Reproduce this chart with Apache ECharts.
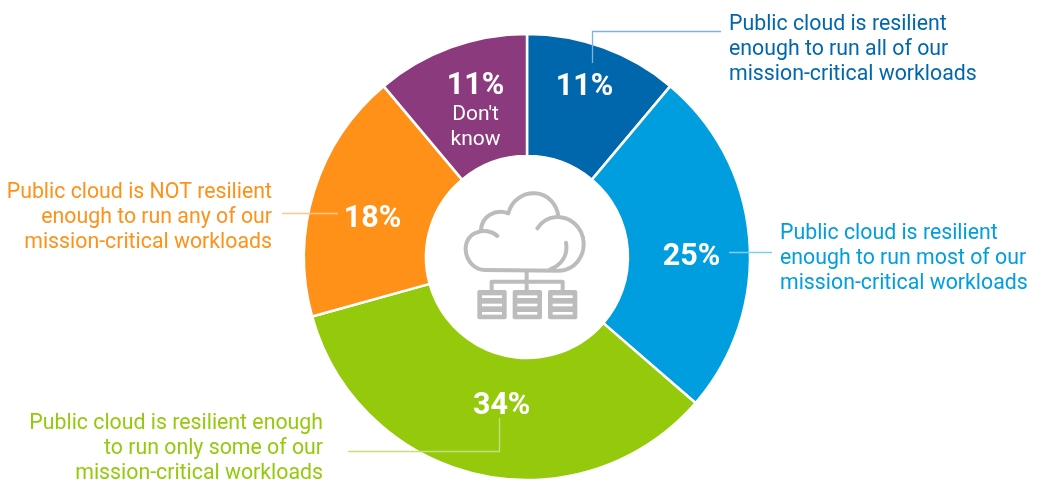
<!DOCTYPE html>
<html><head><meta charset="utf-8">
<style>html,body{margin:0;padding:0;background:#fff}#c{width:1042px;height:480px}</style>
<script src="https://cdn.jsdelivr.net/npm/echarts@6/dist/echarts.min.js"></script></head>
<body><div id="c"></div>
<script>
const values = [11, 25, 34, 18, 11];
const percentLabels = ['11%', '25%', '34%', '18%', '11%'];
const subLabels = ['', '', '', '', "Don't\nknow"];
const colors = ['#0067AC', '#009DDF', '#94CA0B', '#FF9119', '#8C3A7E'];
const lineColors = ['#80B3D5', '#80CEEF', '#C4E07E', '#FFC88C'];
const calloutLines = [
  ['Public cloud is resilient', 'enough to run all of our', 'mission-critical workloads'],
  ['Public cloud is resilient', 'enough to run most of our', 'mission-critical workloads'],
  ['Public cloud is resilient enough', 'to run only some of our', 'mission-critical workloads'],
  ['Public cloud is NOT resilient', 'enough to run any of our', 'mission-critical workloads']
];
const FONT = 'Roboto';
const labelOffsets = [[1,-15],[0,13],[11,-12],[3,11],[5,9]];

const callouts = [
  {x:729, y:25, align:'left', c:0, pts:[[592.5,63],[592.5,31.5],[721,31.5]]},
  {x:780, y:234, align:'left', c:1, pts:[[729,252.5],[772,252.5]]},
  {x:323, y:424, align:'right', c:2, pts:[[348,451.5],[499.5,451.5],[499.5,418]]},
  {x:272, y:193, align:'right', c:3, pts:[[282,213.5],[338,213.5]]}
];
const iconPaths = [
  'M 232 198 C 215 182 190 180 172 187 C 150 192 136 215 137 240 C 140 275 165 300 195 300 L 420 302 C 465 298 493 260 491 218 C 488 170 450 140 410 141 C 385 142 365 155 352 175',
  'M 183 180 C 185 140 225 115 265 130 C 275 90 310 68 345 70 C 385 72 412 105 415 140',
  'M 438 218 C 445 255 425 285 390 298',
  'M 320 302 L 320 360 M 215 360 L 215 335 L 428 335 L 428 360'
];
iconPaths.forEach((d, i) => echarts.graphic.registerShape('icon' + i, echarts.graphic.extendPath(d, {})));

const graphics = [];
callouts.forEach(o => {
  calloutLines[o.c].forEach((t, i) => graphics.push({
    type:'text', x:o.x, y:o.y + i*25, z:10,
    style:{text:t, fill:colors[o.c], font:'400 21.3px '+FONT, textAlign:o.align, textVerticalAlign:'middle'}
  }));
  graphics.push({type:'polyline', z:10, shape:{points:o.pts}, style:{stroke:lineColors[o.c], lineWidth:1.3, fill:null}});
});
const G = '#BCBCBC';
const iconChildren = iconPaths.map((d, i) => ({type:'icon' + i, style:{stroke:G, lineWidth:12, fill:null, lineCap:'round', lineJoin:'round'}}));
[172, 278, 384].forEach(x => {
  iconChildren.push({type:'rect', shape:{x:x, y:360, width:88, height:88, r:6}, style:{fill:G}});
  [380, 405, 430].forEach(y => iconChildren.push({type:'rect', shape:{x:x+14, y:y-4, width:60, height:8}, style:{fill:'#fff'}}));
});
graphics.push({type:'group', x:420, y:170, scaleX:1/3, scaleY:1/3, z:9, children:iconChildren});

const chart = echarts.init(document.getElementById('c'), null, {renderer:'canvas'});
chart.setOption({
  animation:false,
  backgroundColor:'#fff',
  series:[{
    type:'pie', center:[527,257], radius:[101,223], startAngle:90, clockwise:true,
    itemStyle:{borderColor:'#fff', borderWidth:2.5},
    emphasis:{disabled:true},
    labelLine:{show:false},
    data: values.map((v,i)=>({
      value:v,
      itemStyle:{color:colors[i]},
      label:{
        show:true, position:'inside', offset:labelOffsets[i],
        formatter: subLabels[i] ? '{p|'+percentLabels[i]+'}\n{s|'+subLabels[i].split('\n').join('}\n{s|')+'}' : '{p|'+percentLabels[i]+'}',
        rich:{
          p:{color:'#fff', fontFamily:FONT, fontWeight:700, fontSize:30.5, lineHeight:33, align:'center'},
          s:{color:'#fff', fontFamily:FONT, fontWeight:400, fontSize:21, lineHeight:25, align:'center'}
        }
      }
    }))
  }],
  graphic: graphics
});
</script></body></html>
